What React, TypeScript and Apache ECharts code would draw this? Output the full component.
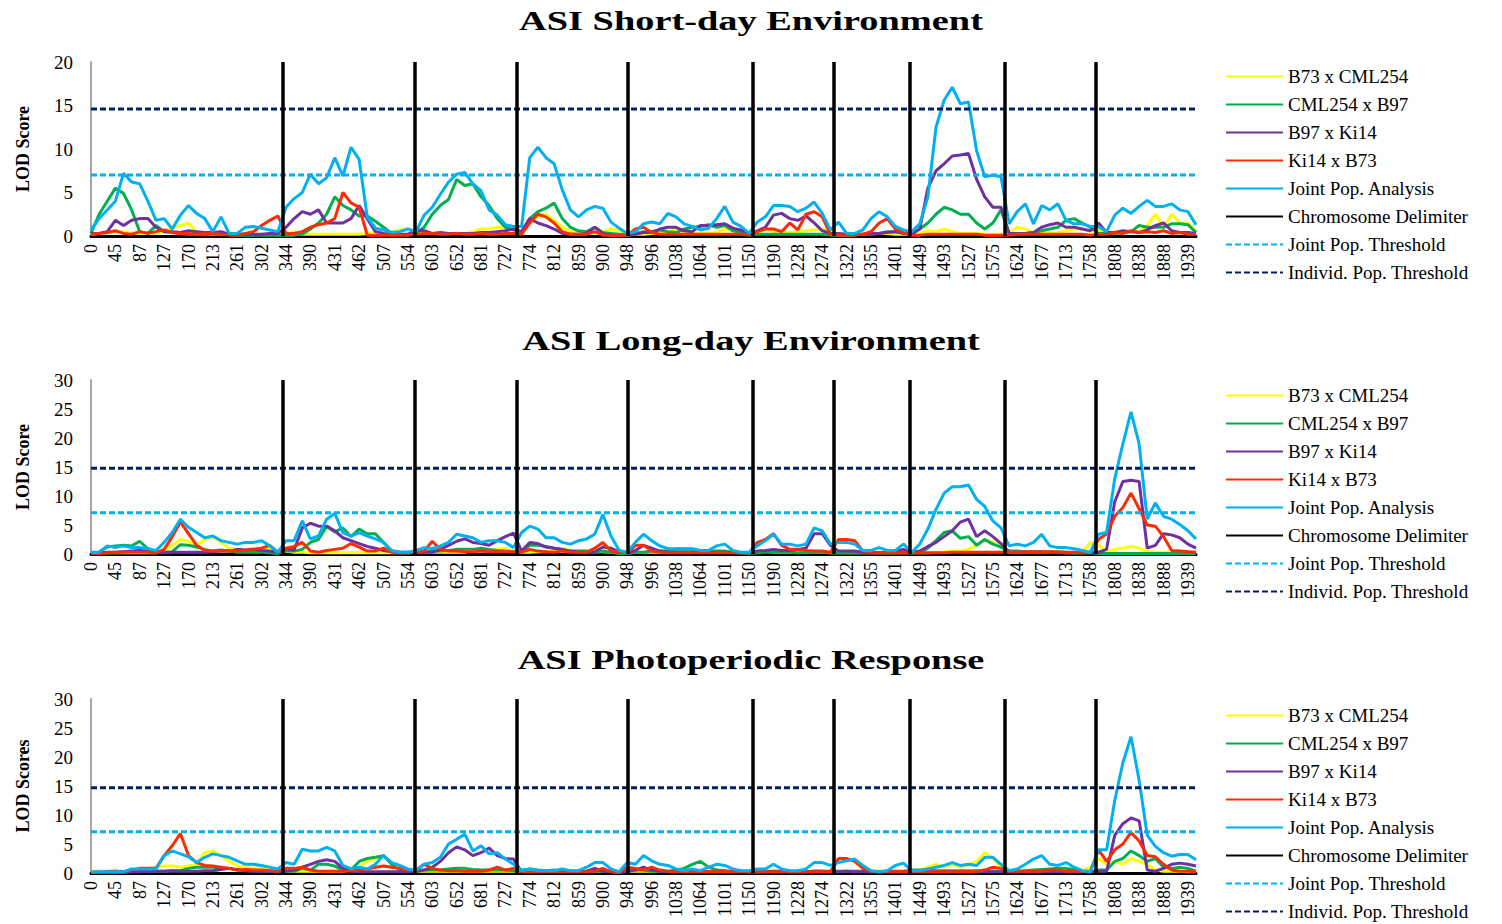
import React, { useEffect, useRef } from 'react';
import * as echarts from 'echarts';

// ---------- data ----------
const tickLabels = ['0','45','87','127','170','213','261','302','344','390','431','462','507','554','603','652','681','727','774','812','859','900','948','996','1038','1064','1101','1150','1190','1228','1274','1322','1355','1401','1449','1493','1527','1575','1624','1677','1713','1758','1808','1838','1888','1939'];
const SAMPLES_PER_LABEL = 3;
// chromosome delimiter positions, in sample-index units
const delimiterPositions = [23.6, 39.8, 52.4, 66.1, 81.4, 91.4, 100.8, 112.4, 123.6];

const seriesNames = ['B73 x CML254', 'CML254 x B97', 'B97 x Ki14', 'Ki14 x B73', 'Joint Pop. Analysis'];
const seriesColors = ['#FFFF00', '#00B050', '#7030A0', '#FF2A00', '#00B0F0'];
const delimiterName = 'Chromosome Delimiter';
const jointThrName = 'Joint Pop. Threshold';
const indivThrName = 'Individ. Pop. Threshold';

const panelTitles = ['ASI Short-day Environment', 'ASI Long-day Environment', 'ASI Photoperiodic Response'];
const yAxisNames = ['LOD Score', 'LOD Score', 'LOD Scores'];
const yMaxes = [20, 30, 30];
const jointThresholds = [7.0, 7.1, 7.1];
const indivThresholds = [14.6, 14.8, 14.7];

// ---- Short-day ----
const sdCml = [0.2,0.3,0.4,0.5,0.5,0.3,0.3,0.4,0.3,0.5,
 1.0,1.2,1.5,0.5,0.3,0.2,0.2,0.2,0.2,0.2,
 0.2,0.2,0.2,0.2,0.2,0.5,0.2,0.2,0.2,0.2,
 0.2,0.2,0.2,0.2,0.3,0.4,0.5,0.5,0.7,0.8,
 0.3,0.3,0.3,0.3,0.3,0.3,0.3,0.5,0.8,0.8,
 1.0,1.0,0.6,0.5,1.5,2.3,2.5,1.8,1.0,0.5,
 0.6,0.4,0.3,0.5,0.8,0.7,0.1,0.2,0.2,0.3,
 0.3,0.5,0.8,0.5,0.3,0.3,0.3,0.4,0.8,0.6,
 0.4,0.2,0.3,0.8,0.5,0.4,0.4,0.5,0.6,0.7,
 0.8,0.6,0.2,0.2,0.2,0.2,0.3,0.3,0.3,0.2,
 0.2,0.2,0.3,0.6,0.5,0.8,0.5,0.3,0.3,0.3,
 0.2,0.2,0.2,0.3,1.0,0.8,0.4,0.3,0.3,0.4,
 0.6,0.8,0.8,0.5,0.8,0.3,0.5,0.5,0.5,0.5,
 1.2,2.5,1.0,2.5,1.5,1.5,0.5];
const sdB97 = [0.3,2.5,4.0,5.5,4.9,3.0,0.5,0.3,1.2,0.5,
 0.4,0.3,0.2,0.2,0.2,0.2,0.2,0.2,0.1,0.1,
 0.1,0.1,0.1,0.1,0.1,0.1,0.2,0.8,1.5,2.5,
 4.5,3.5,3.0,2.3,2.3,1.7,1.0,0.3,0.2,0.1,
 0.3,1.0,2.5,3.5,4.2,6.5,5.8,6.0,4.5,3.5,
 2.0,1.0,0.7,0.5,2.0,2.8,3.2,3.8,2.0,1.0,
 0.6,0.5,1.0,0.4,0.3,0.2,0.1,0.3,0.5,0.5,
 0.7,0.5,0.4,0.8,1.0,1.1,1.3,1.0,1.2,0.6,
 0.4,0.1,0.2,0.2,0.2,0.2,0.2,0.2,0.2,0.2,
 0.2,0.1,0.1,0.1,0.1,0.2,0.2,0.3,0.5,0.5,
 0.3,0.3,0.8,1.5,2.5,3.3,3.0,2.5,2.5,1.5,
 0.8,1.5,3.0,0.3,0.3,0.3,0.4,0.6,0.8,1.0,
 1.8,2.0,1.5,1.0,0.3,0.3,0.3,0.4,0.5,1.2,
 1.0,1.0,1.0,1.4,1.4,1.3,0.4];
const sdKi14 = [0.3,0.3,0.5,1.8,1.2,1.8,2.0,2.0,1.0,0.5,
 0.5,0.4,0.6,0.5,0.4,0.4,0.5,0.2,0.2,0.2,
 0.2,0.2,0.3,0.3,1.0,2.0,2.8,2.5,3.0,1.5,
 1.5,1.5,2.0,3.5,2.0,0.5,0.3,0.2,0.2,0.2,
 0.7,0.6,0.3,0.4,0.3,0.3,0.3,0.3,0.4,0.4,
 0.5,0.6,0.8,0.5,2.0,1.5,1.2,0.8,0.3,0.2,
 0.2,0.3,1.0,0.3,0.1,0.1,0.1,0.2,0.4,0.4,
 0.8,1.0,1.0,0.6,0.5,1.2,1.2,1.3,1.4,0.9,
 0.7,0.2,0.6,1.0,2.4,2.6,2.0,1.8,2.3,1.5,
 0.6,0.3,0.3,0.2,0.2,0.2,0.3,0.3,0.4,0.5,
 0.3,0.2,0.8,5.5,7.5,8.3,9.2,9.3,9.5,6.5,
 4.5,3.3,3.3,0.3,0.3,0.3,0.4,1.0,1.3,1.5,
 1.0,1.0,0.8,0.6,1.5,0.4,0.4,0.6,0.5,0.4,
 0.7,1.2,1.5,0.6,0.4,0.4,0.3];
const sdB73 = [0.2,0.3,0.4,0.6,0.3,0.2,0.5,0.3,0.5,0.7,
 0.4,0.3,0.3,0.2,0.3,0.3,0.2,0.1,0.1,0.3,
 0.5,1.2,1.8,2.3,0.3,0.3,0.5,1.0,1.3,1.5,
 2.0,5.0,3.8,3.3,0.1,0.1,0.1,0.1,0.1,0.1,
 0.2,0.3,0.3,0.2,0.2,0.3,0.2,0.2,0.3,0.2,
 0.2,0.3,0.3,0.2,1.5,2.5,2.2,1.5,0.5,0.2,
 0.2,0.2,0.5,0.1,0.1,0.1,0.1,0.8,1.0,0.4,
 0.2,0.2,0.2,0.2,0.2,0.2,0.2,0.2,0.2,0.2,
 0.2,0.1,0.5,0.8,0.8,0.5,1.5,0.7,2.5,2.8,
 2.2,0.2,0.1,0.1,0.1,0.2,0.5,1.5,2.0,0.8,
 0.4,0.1,0.1,0.2,0.2,0.2,0.2,0.2,0.2,0.2,
 0.1,0.1,0.1,0.1,0.2,0.2,0.2,0.2,0.2,0.2,
 0.2,0.2,0.2,0.1,0.2,0.2,0.4,0.3,0.6,0.4,
 0.5,0.4,0.6,0.3,0.4,0.2,0.2];
const sdJoint = [0.7,2.0,3.0,4.0,7.2,6.2,6.0,4.0,1.8,2.0,
 0.8,2.4,3.5,2.6,2.0,0.5,2.2,0.3,0.3,1.0,
 1.1,0.9,0.7,0.5,3.3,4.3,5.0,7.1,6.0,6.7,
 9.0,6.9,10.2,8.8,2.2,0.9,0.7,0.4,0.5,0.8,
 0.5,2.4,3.3,4.8,6.2,7.1,7.3,6.0,5.2,3.0,
 2.4,1.3,1.1,1.1,9.0,10.2,9.0,8.3,5.3,3.0,
 2.2,3.0,3.4,3.2,1.6,0.9,0.3,0.5,1.4,1.6,
 1.4,2.6,2.2,1.4,1.1,0.7,0.9,2.0,3.4,1.6,
 1.1,0.3,1.6,2.2,3.5,3.5,3.4,2.8,3.2,3.9,
 2.6,0.7,1.6,0.3,0.3,0.7,2.0,2.8,2.2,1.1,
 0.7,0.5,1.4,4.5,12.5,15.6,17.1,15.2,15.4,9.8,
 6.8,7.0,6.8,1.4,2.8,3.7,1.4,3.5,3.0,3.7,
 1.8,1.4,1.4,1.1,1.1,0.5,2.4,3.2,2.6,3.4,
 4.1,3.4,3.4,3.7,3.0,2.8,1.3];

// ---- Long-day ----
const ldCml = [0.2,0.2,0.2,0.2,0.2,0.2,0.2,0.2,0.2,0.5,
 1.5,2.5,2.2,1.5,2.5,3.0,2.0,1.0,0.8,0.8,
 1.0,1.0,1.2,0.3,0.5,0.3,0.3,0.2,0.2,0.2,
 0.2,0.2,0.2,0.2,0.2,0.2,0.2,0.2,0.2,0.2,
 0.3,0.3,0.3,0.3,0.3,0.3,0.3,0.8,0.5,0.6,
 0.8,1.0,0.5,0.3,0.3,0.4,0.4,0.5,1.0,0.5,
 0.5,0.4,0.4,0.4,0.3,0.2,0.2,0.3,0.3,0.3,
 0.3,0.3,0.3,0.3,0.3,0.3,0.3,0.3,0.3,0.3,
 0.2,0.2,0.5,0.5,0.3,0.3,0.3,0.3,0.3,0.3,
 0.3,0.2,0.2,0.2,0.2,0.2,0.2,0.2,0.2,0.2,
 0.2,0.2,0.2,0.2,0.3,0.3,0.5,0.5,0.8,1.5,
 2.5,2.0,1.5,0.3,0.3,0.3,0.3,0.3,0.3,0.3,
 0.2,0.2,0.2,2.0,1.5,0.5,0.8,1.0,1.3,1.0,
 0.5,0.3,0.3,0.3,0.3,0.3,0.3];
const ldB97 = [0.1,0.3,1.2,1.4,1.5,1.4,2.2,0.9,0.5,0.3,
 0.4,1.6,1.5,1.2,0.8,0.5,0.7,0.5,0.3,0.3,
 0.3,0.3,0.2,0.1,0.5,0.5,0.8,2.0,2.5,4.8,
 3.8,4.5,3.0,4.3,3.5,3.5,2.0,0.5,0.3,0.2,
 0.3,0.3,0.5,0.5,0.6,0.8,0.8,0.8,1.0,0.8,
 0.6,0.5,0.4,0.5,1.5,1.5,1.3,1.0,0.8,0.5,
 0.5,0.5,0.3,0.5,0.3,0.1,0.1,0.3,0.3,0.5,
 0.5,0.5,0.8,0.8,0.8,0.5,0.5,0.5,0.5,0.3,
 0.2,0.1,0.2,0.3,0.3,0.3,0.3,0.2,0.2,0.3,
 0.3,0.2,0.2,0.2,0.2,0.2,0.2,0.2,0.2,0.2,
 0.3,0.2,0.3,1.0,2.3,3.7,4.0,2.7,3.0,1.5,
 2.5,1.7,1.2,0.5,0.5,0.4,0.4,0.4,0.3,0.3,
 0.3,0.2,0.2,0.2,0.1,0.1,0.1,0.1,0.1,0.1,
 0.1,0.1,0.1,0.1,0.1,0.1,0.1];
const ldKi14 = [0.1,0.2,0.3,0.3,0.4,0.5,0.6,0.5,0.3,0.2,
 0.3,0.3,0.3,0.3,0.3,0.4,0.5,0.5,0.8,0.7,
 0.8,0.6,0.5,0.3,0.9,0.7,4.5,5.3,4.8,4.8,
 4.0,2.8,2.3,1.8,1.3,1.0,0.6,0.4,0.3,0.3,
 0.2,0.3,0.3,0.8,1.5,2.2,2.6,2.0,1.8,1.5,
 2.3,3.0,3.6,0.5,2.0,1.8,1.2,1.0,0.8,0.5,
 0.3,0.3,0.4,1.2,1.0,0.3,0.2,0.6,1.5,1.0,
 0.5,0.3,0.3,0.3,0.3,0.3,0.3,0.3,0.3,0.2,
 0.2,0.2,0.5,0.6,0.8,0.6,0.6,0.8,1.0,3.5,
 3.5,1.5,0.5,0.5,0.5,0.3,0.2,0.2,0.3,0.5,
 0.8,0.3,0.5,1.3,2.0,3.0,4.0,5.5,6.0,3.0,
 4.0,3.0,1.8,0.3,0.3,0.3,0.3,0.3,0.3,0.2,
 0.2,0.2,0.2,0.2,0.3,0.8,9.0,12.5,12.7,12.5,
 1.0,1.5,3.5,3.3,2.8,1.7,1.0];
const ldB73 = [0.1,0.1,0.2,0.3,0.3,0.3,0.3,0.3,0.2,0.8,
 3.0,5.5,3.5,1.5,0.6,0.5,0.5,0.5,0.5,0.6,
 0.8,1.0,1.5,0.3,1.0,1.3,2.0,0.5,0.3,0.6,
 0.8,1.0,1.8,1.2,0.5,0.5,1.0,0.3,0.2,0.2,
 0.3,0.5,2.2,0.8,0.5,0.5,0.4,0.4,0.5,0.4,
 0.4,0.4,0.4,0.3,0.8,0.5,0.4,0.3,0.5,0.3,
 0.3,0.3,1.0,2.0,0.5,0.3,0.2,1.5,1.5,0.5,
 0.3,0.2,0.2,0.2,0.2,0.2,0.2,0.2,0.2,0.2,
 0.2,0.2,2.0,2.5,3.5,1.5,0.8,0.8,0.6,0.5,
 0.5,0.3,2.5,2.5,2.3,0.5,0.3,0.2,0.2,0.2,
 0.2,0.2,0.2,0.2,0.2,0.2,0.3,0.3,0.3,0.3,
 0.3,0.3,0.3,0.3,0.3,0.4,0.4,0.4,0.4,0.4,
 0.3,0.3,0.2,0.2,2.5,3.5,6.5,8.0,10.5,7.8,
 5.0,4.8,3.0,0.6,0.5,0.4,0.3];
const ldJoint = [0.3,0.3,1.4,1.1,1.4,1.1,1.1,0.9,0.6,2.0,
 3.7,6.0,4.6,3.7,2.8,3.1,2.3,2.0,1.7,2.0,
 2.0,2.3,1.4,0.3,2.3,2.3,5.7,2.6,3.1,6.0,
 7.0,3.7,3.1,3.7,3.1,2.6,2.0,0.6,0.3,0.3,
 0.6,1.1,0.9,1.4,2.0,3.4,3.1,2.8,2.0,2.3,
 2.3,2.0,1.1,3.7,4.8,4.3,2.8,2.8,2.0,1.7,
 2.3,2.6,3.4,6.8,3.1,0.6,0.3,2.0,3.4,2.3,
 1.4,0.9,0.9,0.9,0.9,0.6,0.6,1.4,1.7,0.6,
 0.3,0.3,1.4,2.3,3.4,1.7,1.7,1.4,1.7,4.5,
 4.0,1.7,2.0,2.0,1.7,0.6,0.6,1.1,0.6,0.6,
 1.7,0.3,1.7,4.3,7.7,10.5,11.6,11.6,11.9,9.4,
 8.2,5.7,4.5,1.4,1.7,1.4,2.0,3.4,1.4,1.1,
 1.1,0.9,0.6,0.3,3.4,3.7,13.0,19.0,24.5,19.0,
 6.0,8.8,6.5,6.0,5.1,4.0,2.6];

// ---- Photoperiodic response ----
const prCml = [0.3,0.3,0.3,0.5,0.2,0.3,0.5,0.6,1.0,1.2,
 1.2,1.0,1.2,1.5,3.5,3.8,3.0,2.0,1.2,1.0,
 0.8,0.8,0.5,0.3,0.3,0.3,0.3,0.3,0.3,0.3,
 0.3,0.3,0.5,1.0,2.0,2.5,3.0,1.5,0.8,0.5,
 0.3,0.3,0.3,0.3,0.3,0.3,0.3,0.3,0.3,0.3,
 0.3,0.3,0.3,0.3,0.3,0.3,0.3,0.3,0.3,0.3,
 0.3,0.3,0.3,0.3,0.3,0.2,0.3,0.3,0.3,0.3,
 0.3,0.3,0.3,0.3,0.3,0.3,0.3,0.3,0.3,0.3,
 0.3,0.3,0.3,0.3,0.5,0.3,0.3,0.3,0.3,0.3,
 0.3,0.3,0.3,0.3,0.3,0.3,0.3,0.3,0.3,0.3,
 0.3,0.3,0.5,1.0,1.5,1.0,1.5,1.0,1.5,2.0,
 3.5,2.5,1.0,0.3,0.3,0.3,0.3,0.3,0.3,0.3,
 0.3,0.3,0.3,1.0,2.5,1.5,2.0,1.5,2.5,2.0,
 1.5,0.5,0.3,0.3,0.3,0.2,0.2];
const prB97 = [0.1,0.1,0.1,0.2,0.2,0.2,0.3,0.3,0.3,0.3,
 0.4,0.4,0.8,1.0,1.0,1.0,0.8,0.8,0.5,0.4,
 0.4,0.3,0.3,0.2,0.3,0.3,0.8,0.5,1.5,1.5,
 1.2,0.5,0.5,2.0,2.5,2.7,3.0,1.5,0.5,0.4,
 0.3,0.5,0.5,0.5,0.7,0.8,0.8,0.6,0.5,0.5,
 0.5,0.5,0.4,0.5,0.7,0.5,0.4,0.5,0.3,0.3,
 0.3,0.3,0.3,0.3,0.3,0.2,0.8,0.5,0.5,0.3,
 0.3,0.3,0.5,0.8,1.5,2.0,1.0,0.5,0.4,0.3,
 0.3,0.2,0.2,0.2,0.3,0.3,0.2,0.2,0.2,0.3,
 0.3,0.3,0.3,0.3,0.3,0.3,0.2,0.2,0.3,0.3,
 0.3,0.5,0.5,0.5,0.4,0.4,0.4,0.4,0.4,0.4,
 0.4,0.3,0.3,0.2,0.3,0.4,0.5,0.6,0.7,0.8,
 0.8,0.6,0.3,0.2,0.5,0.5,2.0,2.5,3.8,3.0,
 2.0,2.5,1.0,0.8,1.0,0.8,0.3];
const prKi14 = [0.1,0.1,0.1,0.1,0.1,0.2,0.2,0.3,0.3,0.3,
 0.4,0.3,0.3,0.3,0.4,0.4,0.6,0.8,0.6,0.4,
 0.3,0.3,0.3,0.2,0.3,0.5,1.0,1.5,2.0,2.3,
 2.0,0.8,0.3,0.2,0.2,0.2,0.2,0.2,0.2,0.2,
 0.3,0.5,1.0,2.0,3.5,4.5,4.0,3.0,3.5,4.3,
 3.0,2.5,2.4,0.2,0.2,0.2,0.2,0.2,0.2,0.2,
 0.2,0.3,0.8,0.3,0.2,0.1,0.3,0.5,1.0,0.5,
 0.3,0.2,0.2,0.2,0.2,0.2,0.2,0.2,0.2,0.2,
 0.2,0.2,0.2,0.2,0.2,0.2,0.2,0.2,0.2,0.3,
 0.3,0.2,0.2,0.3,0.2,0.2,0.2,0.2,0.2,0.2,
 0.2,0.2,0.2,0.2,0.2,0.2,0.2,0.2,0.2,0.2,
 0.2,0.2,0.2,0.2,0.2,0.2,0.2,0.2,0.2,0.2,
 0.2,0.2,0.2,0.2,0.3,0.3,6.5,8.5,9.5,9.0,
 0.5,0.3,0.8,1.5,1.7,1.5,1.2];
const prB73 = [0.1,0.1,0.2,0.3,0.2,0.5,0.8,0.8,0.8,3.0,
 4.7,6.8,3.0,1.8,1.3,1.2,1.0,0.8,0.5,0.6,
 0.5,0.5,0.4,0.3,0.8,0.8,1.0,0.5,0.3,0.3,
 0.3,0.3,0.4,0.5,0.7,1.0,1.2,1.0,0.8,0.5,
 0.5,1.5,0.8,0.5,0.4,0.4,0.3,0.3,0.3,0.5,
 1.0,0.5,0.8,0.2,0.2,0.2,0.2,0.2,0.2,0.2,
 0.2,0.2,0.3,0.8,0.2,0.1,1.0,0.8,0.5,1.0,
 0.5,0.3,0.2,0.2,0.2,0.2,0.2,0.2,0.2,0.2,
 0.2,0.2,0.2,0.2,0.2,0.2,0.2,0.2,0.2,0.2,
 0.2,0.2,2.5,2.5,2.0,0.8,0.3,0.2,0.2,0.2,
 0.2,0.2,0.2,0.2,0.2,0.2,0.2,0.2,0.2,0.3,
 0.5,1.0,0.8,0.3,0.3,0.3,0.3,0.3,0.5,0.5,
 0.3,0.3,0.3,0.3,4.0,2.0,4.0,5.0,7.0,5.5,
 3.0,2.8,1.5,0.5,0.3,0.3,0.2];
const prJoint = [0.2,0.2,0.2,0.2,0.2,0.7,0.7,0.7,0.7,3.0,
 3.8,3.3,2.8,1.8,2.7,3.3,3.0,2.7,2.1,1.5,
 1.5,1.3,1.0,0.7,1.8,1.5,4.1,3.8,3.8,4.4,
 3.8,1.3,0.7,1.0,0.7,1.5,3.0,1.8,1.3,0.7,
 0.4,1.5,1.8,2.7,5.0,5.8,6.7,3.8,4.7,3.3,
 3.5,2.4,1.5,0.4,0.7,0.4,0.4,0.4,0.7,0.4,
 0.4,1.0,1.8,1.8,0.7,0.2,1.8,1.5,3.0,2.1,
 1.5,1.3,0.7,0.4,0.7,0.4,1.0,1.5,1.3,0.7,
 0.4,0.4,0.7,0.7,1.5,0.7,0.4,0.4,0.7,1.8,
 1.8,1.3,1.8,2.1,2.4,1.3,0.4,0.2,0.4,1.3,
 1.7,0.4,0.4,0.7,1.0,1.3,1.8,1.3,1.5,1.3,
 2.7,2.7,1.5,0.4,0.7,1.5,2.4,3.0,1.5,1.3,
 1.8,1.0,0.4,0.2,4.0,4.0,12.5,19.0,23.5,16.0,
 6.5,4.6,3.5,2.9,3.2,3.2,2.3];

const panelData = [
  [sdCml, sdB97, sdKi14, sdB73, sdJoint],
  [ldCml, ldB97, ldKi14, ldB73, ldJoint],
  [prCml, prB97, prKi14, prB73, prJoint],
];

// ---------- layout / style ----------
const FONT = '"Liberation Serif", "Times New Roman", Times, serif';
const gridTops = [62, 380, 699];
const gridHeight = 174;
const titleYs = [20, 340, 659];
const legendTops = [67, 386, 706];
const JOINT_THR_COLOR = '#00B0F0';
const INDIV_THR_COLOR = '#002060';

function buildOption() {
  const last = sdJoint.length - 1;
  const grid = gridTops.map((t) => ({ left: 91, width: 1105, top: t, height: gridHeight }));
  const xAxis = gridTops.map((_, k) => ({
    type: 'value',
    gridIndex: k,
    min: 0,
    max: last,
    interval: SAMPLES_PER_LABEL,
    axisLine: { show: true, onZero: false, lineStyle: { color: '#000', width: 3 } },
    axisTick: { show: false },
    splitLine: { show: false },
    axisLabel: {
      rotate: 90,
      fontFamily: FONT,
      fontSize: 18,
      color: '#000',
      margin: 8,
      showMaxLabel: false,
      formatter: (v: number) => {
        const j = v / SAMPLES_PER_LABEL;
        return Number.isInteger(j) && tickLabels[j] !== undefined ? tickLabels[j] : '';
      },
    },
  }));
  const yAxis = gridTops.map((_, k) => ({
    type: 'value',
    gridIndex: k,
    min: 0,
    max: yMaxes[k],
    interval: 5,
    name: yAxisNames[k],
    nameLocation: 'middle',
    nameRotate: 90,
    nameGap: 59,
    nameTextStyle: { fontFamily: FONT, fontWeight: 'bold', fontSize: 18, color: '#000' },
    axisLine: { show: true, lineStyle: { color: '#A6A6A6', width: 2 } },
    axisTick: { show: false },
    splitLine: { show: false },
    axisLabel: { fontFamily: FONT, fontSize: 19, color: '#000', margin: 18 },
  }));

  const series: any[] = [];
  panelData.forEach((arrs, k) => {
    arrs.forEach((arr, s) => {
      series.push({
        type: 'line',
        name: seriesNames[s],
        xAxisIndex: k,
        yAxisIndex: k,
        data: arr.map((v, i) => [i, v]),
        symbol: 'none',
        silent: true,
        lineStyle: { color: seriesColors[s], width: 3 },
        itemStyle: { color: seriesColors[s] },
      });
    });
    series.push({
      type: 'line',
      name: delimiterName,
      xAxisIndex: k,
      yAxisIndex: k,
      data: [],
      symbol: 'none',
      lineStyle: { color: '#000', width: 3 },
      itemStyle: { color: '#000' },
      markLine: {
        silent: true,
        symbol: ['none', 'none'],
        label: { show: false },
        emphasis: { disabled: true },
        lineStyle: { color: '#000', width: 3.5, type: 'solid' },
        data: delimiterPositions.map((x) => ({ xAxis: x })),
      },
    });
    series.push({
      type: 'line',
      name: jointThrName,
      xAxisIndex: k,
      yAxisIndex: k,
      data: [[0, jointThresholds[k]], [last, jointThresholds[k]]],
      symbol: 'none',
      silent: true,
      lineStyle: { color: JOINT_THR_COLOR, width: 3, type: [6, 3] },
      itemStyle: { color: JOINT_THR_COLOR },
    });
    series.push({
      type: 'line',
      name: indivThrName,
      xAxisIndex: k,
      yAxisIndex: k,
      data: [[0, indivThresholds[k]], [last, indivThresholds[k]]],
      symbol: 'none',
      silent: true,
      lineStyle: { color: INDIV_THR_COLOR, width: 3, type: [6, 3] },
      itemStyle: { color: INDIV_THR_COLOR },
    });
  });

  const legendNames = [...seriesNames, delimiterName, jointThrName, indivThrName];
  const legend = legendTops.map((t) => ({
    orient: 'vertical',
    left: 1225,
    top: t,
    height: 260,
    padding: 0,
    itemWidth: 57,
    itemHeight: 14,
    itemGap: 9,
    selectedMode: false,
    data: legendNames,
    itemStyle: { opacity: 0 },
    textStyle: { fontFamily: FONT, fontSize: 19, color: '#000' },
  }));

  const graphic = panelTitles.map((t, k) => ({
    type: 'text',
    x: 751,
    y: titleYs[k],
    scaleX: 1.37,
    silent: true,
    style: {
      text: t,
      fill: '#000',
      font: `bold 28px ${FONT}`,
      textAlign: 'center',
      textVerticalAlign: 'middle',
      align: 'center',
      verticalAlign: 'middle',
    },
  }));

  return {
    animation: false,
    backgroundColor: '#fff',
    grid,
    xAxis,
    yAxis,
    legend,
    graphic,
    series,
  };
}

export default function App() {
  const ref = useRef<HTMLDivElement>(null);
  useEffect(() => {
    if (!ref.current) return;
    const chart = echarts.init(ref.current, null, { renderer: 'svg' });
    chart.setOption(buildOption() as any);
    return () => chart.dispose();
  }, []);
  return (
    <div
      ref={ref}
      style={{ position: 'absolute', left: 0, top: 0, width: 1502, height: 924, background: '#fff' }}
    />
  );
}
